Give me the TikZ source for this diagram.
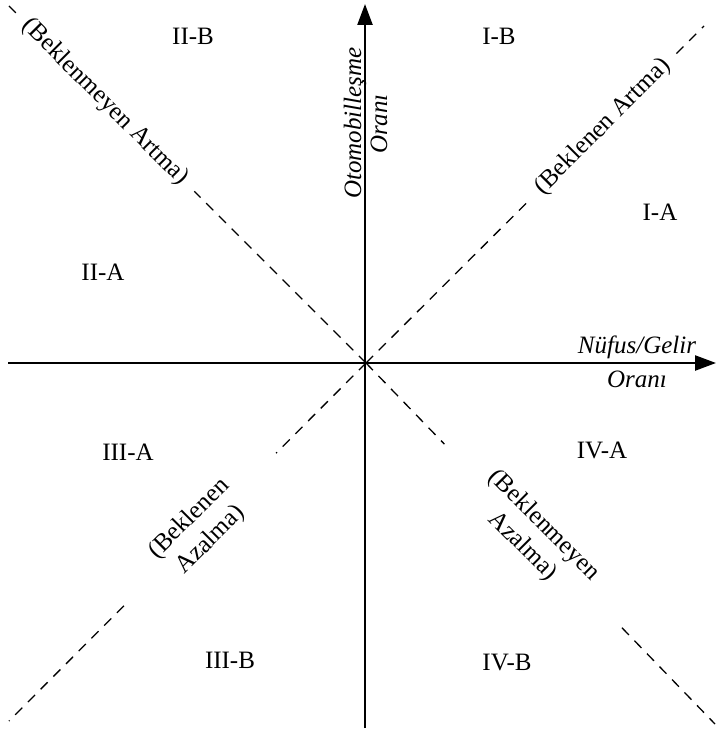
\documentclass[tikz,border=0pt]{standalone}
\usepackage{fontspec}
\setmainfont{Liberation Serif}
\usetikzlibrary{arrows.meta,calc}
\begin{document}
\begin{tikzpicture}[x=1pt,y=-1pt,
  every node/.style={font=\fontsize{25}{30}\selectfont, inner sep=0pt},
  axis/.style={line width=2.4pt, -{Triangle[length=21pt,width=15pt]}},
  guide/.style={line width=1.3pt, dash pattern=on 10pt off 8pt},
  axlabel/.style={font=\fontsize{25}{30}\selectfont\itshape, anchor=base},
  diag/.style={align=center, minimum height=26pt}
]
\useasboundingbox (0,0) rectangle (716,733);
% key points
\coordinate (O) at (366,363);
\coordinate (xl) at (8,363);
\coordinate (xr) at (716,363);
\coordinate (yb) at (365,728);
\coordinate (yt) at (365,4);
\coordinate (UL) at (9,6);
\coordinate (UR) at (704,26);
\coordinate (LL) at (9,721);
\coordinate (LR) at (715,724);
% diagonal labels
\node[diag, rotate=-45, minimum width=252pt] (ul) at ($(O)!0.731!(UL)$) {(Beklenmeyen Artma)};
\node[diag, rotate=45, minimum width=207pt] (ur) at ($(O)!0.701!(UR)$) {(Beklenen Artma)};
\node[diag, rotate=45, minimum width=215pt] (ll) at ($(O)!0.465!(LL)$) {(Beklenen\\Azalma)};
\node[diag, rotate=-45, minimum width=255pt] (lr) at ($(O)!0.479!(LR)$) {(Beklenmeyen\\Azalma)};
% dashed guide lines
\draw[guide] (O) -- (ul);
\draw[guide] (ul) -- (UL);
\draw[guide] (O) -- (ur);
\draw[guide] (ur) -- (UR);
\draw[guide] (O) -- (ll);
\draw[guide] (ll) -- (LL);
\draw[guide] (O) -- (lr);
\draw[guide] (lr) -- (LR);
% axes
\draw[axis] (xl) -- (xr);
\draw[axis] (yb) -- (yt);
% axis labels
\node[axlabel, rotate=90] (yl1) at (361,123) {Otomobilleşme};
\node[axlabel, rotate=90] (yl2) at (387,124) {Oranı};
\node[axlabel] (xl1) at (637,353) {Nüfus/Gelir};
\node[axlabel] (xl2) at (637,387) {Oranı};
% quadrant labels
\node (IB) at (499,36) {I-B};
\node (IIB) at (193,36) {II-B};
\node (IA) at (660,212) {I-A};
\node (IIA) at (103,272) {II-A};
\node (IIIA) at (128,452) {III-A};
\node (IVA) at (602,450) {IV-A};
\node (IIIB) at (230,660) {III-B};
\node (IVB) at (507,662) {IV-B};
\end{tikzpicture}
\end{document}
